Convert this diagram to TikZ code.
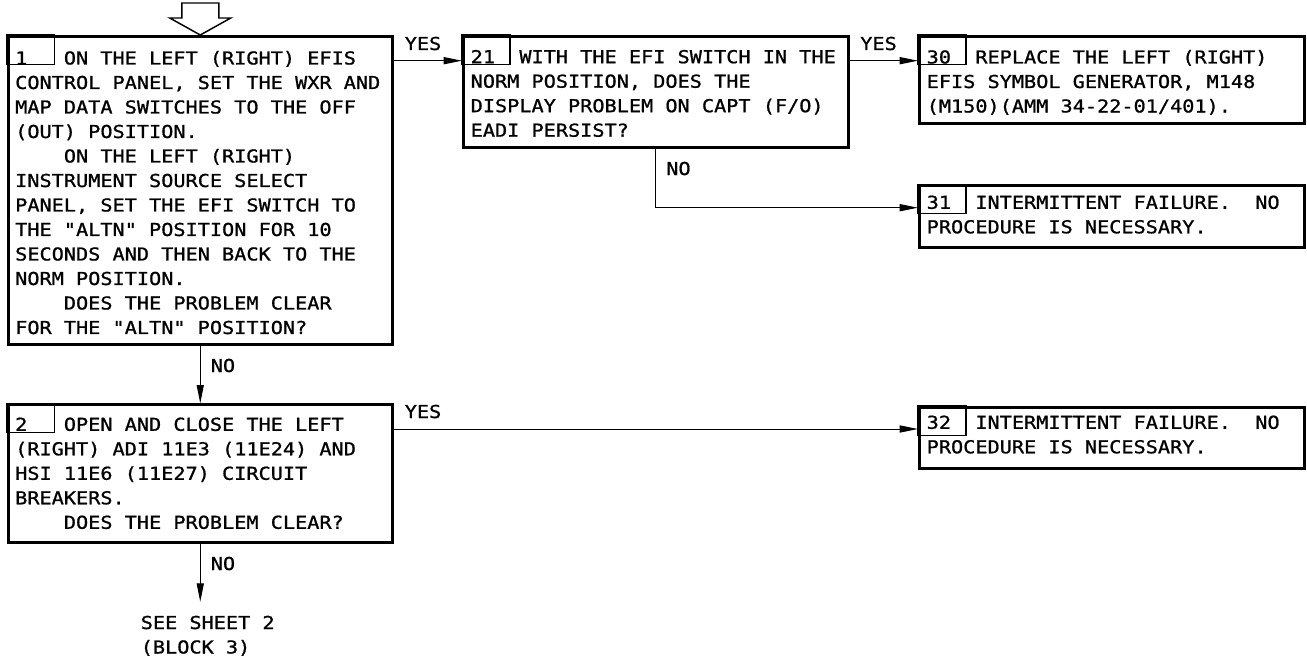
\documentclass[tikz,border=0pt]{standalone}
\usepackage{fontspec}
\usetikzlibrary{arrows.meta,calc}
\newfontfamily\cadfont[FakeStretch=1.134,FakeBold=1.0]{DejaVu Sans Mono}
\newdimen\px \px=0.75pt
\newcommand\cad{\fontsize{13.37pt}{18.375pt}\cadfont\frenchspacing}
\newcommand\tp[1]{\rule{0pt}{#1\px}}
\newcommand\bt[1]{\rule[-#1\px]{0pt}{#1\px}}
\newcommand\Lx[1]{\mbox{\spaceskip=0pt\xspaceskip=0pt #1}}
\setlength\parindent{0pt}
\tikzset{
  blk/.style={draw, line width=2.25pt, anchor=north west, inner xsep=5.4pt,
    inner ysep=0pt, text width=277.6pt, align=flush left, font=\cad},
  numbox/.style={line width=0.8pt},
  conn/.style={line width=0.75pt, -{Triangle[length=13.7pt,width=5.3pt]}},
  lbl/.style={font=\cad, inner sep=0pt, anchor=base west},
  hollow/.style={line width=1.1pt, line join=miter}
}
\begin{document}
\begin{tikzpicture}[x=0.75pt,y=-0.75pt]
\useasboundingbox (0,0) rectangle (1307,667);
% blocks
\node[blk] (b1) at (6.5,35) {\tp{28}\Lx{1\phantom{MMM}ON THE LEFT (RIGHT) EFIS}\\
\Lx{CONTROL PANEL, SET THE WXR AND}\\
\Lx{MAP DATA SWITCHES TO THE OFF}\\
\Lx{(OUT) POSITION.}\\
\Lx{\phantom{MMMM}ON THE LEFT (RIGHT)}\\
\Lx{INSTRUMENT SOURCE SELECT}\\
\Lx{PANEL, SET THE EFI SWITCH TO}\\
\Lx{THE "ALTN" POSITION FOR 10}\\
\Lx{SECONDS AND THEN BACK TO THE}\\
\Lx{NORM POSITION.}\\
\Lx{\phantom{MMMM}DOES THE PROBLEM CLEAR}\\
\Lx{FOR THE "ALTN" POSITION?}\bt{10.5}};
\node[blk] (b2) at (6.5,403.3) {\tp{26}\Lx{2\phantom{MMM}OPEN AND CLOSE THE LEFT}\\
\Lx{(RIGHT) ADI 11E3 (11E24) AND}\\
\Lx{HSI 11E6 (11E27) CIRCUIT}\\
\Lx{BREAKERS.}\\
\Lx{\phantom{MMMM}DOES THE PROBLEM CLEAR?}\bt{13.7}};
\node[blk] (b21) at (462,35) {\tp{26.7}\Lx{21\phantom{MM}WITH THE EFI SWITCH IN THE}\\
\Lx{NORM POSITION, DOES THE}\\
\Lx{DISPLAY PROBLEM ON CAPT (F/O)}\\
\Lx{EADI PERSIST?}\bt{10.3}};
\node[blk] (b30) at (918,35) {\tp{27}\Lx{30\phantom{MM}REPLACE THE LEFT (RIGHT)}\\
\Lx{EFIS SYMBOL GENERATOR, M148}\\
\Lx{(M150)(AMM 34-22-01/401).}\bt{10.7}};
\node[blk] (b31) at (918,184.3) {\tp{23}\Lx{31\phantom{MM}INTERMITTENT FAILURE.\phantom{MM}NO}\\
\Lx{PROCEDURE IS NECESSARY.}\bt{13.9}};
\node[blk] (b32) at (918,405.7) {\tp{21.6}\Lx{32\phantom{MM}INTERMITTENT FAILURE.\phantom{MM}NO}\\
\Lx{PROCEDURE IS NECESSARY.}\bt{15.5}};
% number boxes
\foreach \b in {b1,b2,b21,b30,b31,b32}
  \draw[numbox] (\b.north west) rectangle ++(48,29.5);
% off-sheet reference
\node[lbl, inner ysep=7.4pt] (see) at (140.5,629)
  {\begin{tabular}[t]{@{}l@{}}SEE SHEET 2\\(BLOCK 3)\end{tabular}};
% entry arrow
\draw[hollow, shift={(b1.north)}] (-18.5,-32) -- (18.5,-32) -- (18.5,-17)
  -- (30.5,-17) -- (0,0) -- (-30.5,-17) -- (-18.5,-17) -- cycle;
% connectors
\draw[conn] ($(b1.north east)+(0,25.7)$) -- ($(b21.north west)+(0,25.7)$);
\draw[conn] ($(b21.north east)+(0,25.7)$) -- ($(b30.north west)+(0,25.7)$);
\draw[conn] (b21.south) |- ($(b31.north west)+(0,23.4)$);
\draw[conn] (b1.south) -- (b2.north);
\coordinate (y2) at ($(b2.north east)+(0,25.7)$);
\draw[conn] (y2) -- (y2 -| b32.west);
\draw[conn] (b2.south) -- (b2.south |- see.north);
% labels
\node[lbl] (l1) at (404.5,50) {YES};
\node[lbl] (l2) at (860,50) {YES};
\node[lbl] (l3) at (666,175) {NO};
\node[lbl] (l4) at (210.5,372) {NO};
\node[lbl] (l5) at (404.5,418) {YES};
\node[lbl] (l6) at (210.5,570) {NO};
\end{tikzpicture}
\end{document}
